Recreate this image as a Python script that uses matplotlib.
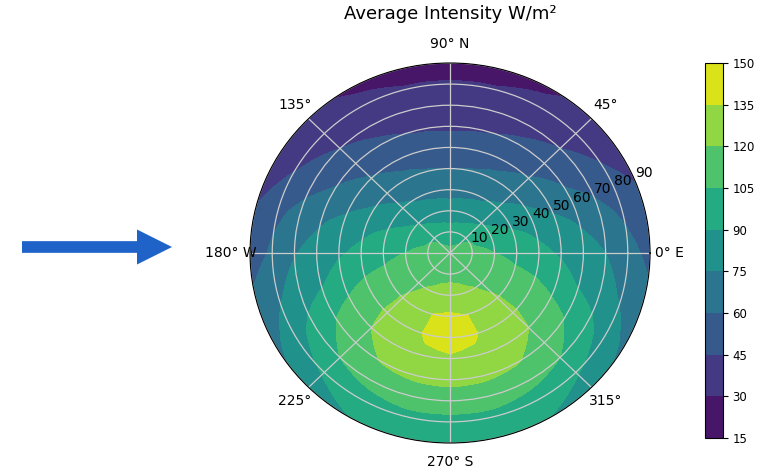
import numpy as np
import matplotlib
matplotlib.use('Agg')
import matplotlib.pyplot as plt

# surface azimuth (deg, 0 = east, counter-clockwise) and tilt from zenith (deg)
azimuth = list(range(0, 360, 15))
zenith = [0, 10, 20, 30, 40, 50, 60, 70, 80, 90]

# average intensity W/m2, one row per azimuth, one column per zenith step
intensity = [
    [109, 108, 105, 99, 94, 88, 81, 75, 65, 56],       # 0 E
    [109, 106, 101, 94, 87, 80, 73, 65, 57, 48],       # 15
    [109, 105, 94, 85, 77, 69, 61, 54, 46, 41],        # 30
    [109, 102, 88, 78, 69, 61, 53, 45, 39, 34],        # 45
    [109, 99, 84, 73, 64, 55, 47, 41, 34, 28],         # 60
    [109, 97, 82, 71, 61, 52, 44, 38, 31, 25],         # 75
    [109, 96, 81, 70, 60, 51, 43, 37, 31, 25],         # 90 N
    [109, 97, 82, 71, 61, 52, 44, 38, 31, 25],         # 105
    [109, 99, 84, 73, 64, 55, 47, 41, 34, 28],         # 120
    [109, 102, 88, 78, 69, 61, 53, 45, 39, 33],        # 135
    [109, 105, 94, 85, 77, 69, 61, 53, 44, 36],        # 150
    [109, 106, 101, 94, 87, 80, 73, 65, 56, 45],       # 165
    [109, 108, 105, 99, 94, 88, 81, 74, 63, 50],       # 180 W
    [109, 110, 109, 107, 104, 97, 89, 82, 73, 64],     # 195
    [109, 112, 114, 114, 113, 110, 104, 95, 84, 72],   # 210
    [109, 114, 118, 121, 122, 120, 114, 105, 92, 79],  # 225
    [109, 115, 121, 127, 128, 127, 121, 109, 99, 90],  # 240
    [109, 116, 124, 135, 137, 132, 123, 112, 101, 93], # 255
    [109, 116, 126, 137, 142, 133, 124, 112, 101, 95], # 270 S
    [109, 116, 124, 135, 137, 132, 123, 112, 101, 93], # 285
    [109, 115, 121, 127, 128, 127, 121, 109, 99, 90],  # 300
    [109, 114, 118, 121, 122, 120, 114, 105, 92, 79],  # 315
    [109, 112, 114, 114, 113, 110, 104, 95, 84, 72],   # 330
    [109, 110, 109, 107, 104, 97, 89, 82, 73, 64],     # 345
]

levels = [15, 30, 45, 60, 75, 90, 105, 120, 135, 150]
theta_ticks = [0, 45, 90, 135, 180, 225, 270, 315]
theta_labels = ['0° E', '45°', '90° N', '135°', '180° W', '225°', '270° S', '315°']

# close the circle by repeating the 0 deg row at 360
theta = np.radians(azimuth + [360])
values = np.array(intensity + [intensity[0]]).T
T, R = np.meshgrid(theta, zenith)

fig = plt.figure(figsize=(7.66, 4.74), dpi=100)

ax = fig.add_axes([0.3264, 0.0654, 0.5222, 0.8017], projection='polar')
cs = ax.contourf(T, R, values, levels=levels, cmap='viridis')
# let the polar transform bend the filled regions along arcs
for p in cs.get_paths():
    p._interpolation_steps = 40
ax.set_aspect('auto')
ax.set_ylim(0, 90)
ax.set_yticks(zenith[1:])
ax.set_thetagrids(theta_ticks, theta_labels)
ax.tick_params(labelsize=10)
ax.grid(color='#cccccc', linewidth=0.9)
ax.set_title('Average Intensity W/m²', fontsize=13, y=1.0, pad=32)

cax = fig.add_axes([0.920, 0.076, 0.0235, 0.791])
cb = fig.colorbar(cs, cax=cax, ticks=levels)
cb.ax.tick_params(labelsize=8.5)

# pointer arrow on the left
overlay = fig.add_axes([0, 0, 1, 1])
overlay.set_xlim(0, 766)
overlay.set_ylim(474, 0)
overlay.axis('off')
overlay.arrow(22, 247, 150, 0, width=11.7, head_width=35, head_length=35,
              length_includes_head=True, color='#1f62c8', lw=0)

fig.savefig('out.png', dpi=100)
